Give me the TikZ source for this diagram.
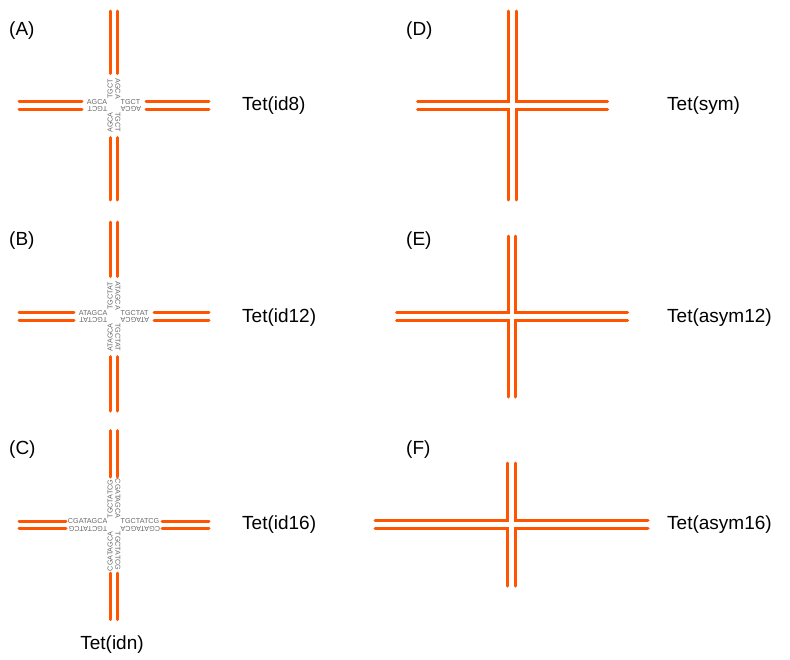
\documentclass[tikz,border=0pt]{standalone}
\usepackage{fontspec}
\setmainfont{Liberation Sans}
\definecolor{strand}{RGB}{255,85,0}
\definecolor{seqgray}{RGB}{105,105,105}
\newcommand\junction[6]{%
  \begin{scope}[shift={(#2,#3)}]
    \draw[strandline] (-3.75,-#4) -- (-3.75,-94.5);
    \draw[strandline] (3.75,-#4) -- (3.75,-94.5);
    \draw[strandline] (-3.75,#4) -- (-3.75,94.5);
    \draw[strandline] (3.75,#4) -- (3.75,94.5);
    \draw[strandline] (-#4,-3.75) -- (-95,-3.75);
    \draw[strandline] (-#4,3.75) -- (-95,3.75);
    \draw[strandline] (#4,-3.75) -- (95,-3.75);
    \draw[strandline] (#4,3.75) -- (95,3.75);
    \node[seq,anchor=east] (#1lt) at (-6.5,-3.75) {#5};
    \node[seq,anchor=west,rotate=180] (#1lb) at (-6.5,3.75) {#6};
    \node[seq,anchor=west] (#1rt) at (6.5,-3.75) {#6};
    \node[seq,anchor=east,rotate=180] (#1rb) at (6.5,3.75) {#5};
    \node[seq,anchor=west,rotate=90] (#1tl) at (-3.75,-6.5) {#6};
    \node[seq,anchor=east,rotate=-90] (#1tr) at (3.75,-6.5) {#5};
    \node[seq,anchor=east,rotate=90] (#1bl) at (-3.75,6.5) {#5};
    \node[seq,anchor=west,rotate=-90] (#1br) at (3.75,6.5) {#6};
  \end{scope}}
\newcommand\plaincross[4]{%
  \begin{scope}[shift={(#1,#2)}]
    \draw[strandline] (-3.75,-#4) -- (-3.75,-3.75) -- (-#3,-3.75);
    \draw[strandline] (3.75,-#4) -- (3.75,-3.75) -- (#3,-3.75);
    \draw[strandline] (-#3,3.75) -- (-3.75,3.75) -- (-3.75,#4);
    \draw[strandline] (#3,3.75) -- (3.75,3.75) -- (3.75,#4);
  \end{scope}}
\begin{document}
\begin{tikzpicture}[x=1pt,y=-1pt,
  strandline/.style={draw=strand,line width=3pt,line cap=round},
  seq/.style={inner sep=0pt,text=seqgray,font=\fontsize{7.2}{7.2}\selectfont},
  lbl/.style={inner sep=0pt,anchor=west,font=\fontsize{19}{22}\selectfont}]
\useasboundingbox (0,0) rectangle (790,659);
\fill[white] (0,0) rectangle (790,659);

\junction{a}{114}{105.5}{32}{AGCA}{TGCT}
\junction{b}{114}{316.5}{40}{ATAGCA}{TGCTAT}
\junction{c}{114}{525}{48}{CGATAGCA}{TGCTATCG}

\plaincross{512.5}{105.5}{95}{94.5}
\plaincross{512}{316.5}{115.5}{80.5}
\plaincross{511.5}{524.5}{136.5}{61.5}

\node[lbl] (pA) at (9,31) {(A)};
\node[lbl] (pB) at (9,241) {(B)};
\node[lbl] (pC) at (9,450) {(C)};
\node[lbl] (pD) at (406,31) {(D)};
\node[lbl] (pE) at (406,241) {(E)};
\node[lbl] (pF) at (406,450) {(F)};

\node[lbl] (lA) at (242,106) {Tet(id8)};
\node[lbl] (lB) at (242,318) {Tet(id12)};
\node[lbl] (lC) at (242,525) {Tet(id16)};
\node[lbl] (lD) at (667,106) {Tet(sym)};
\node[lbl] (lE) at (667,318) {Tet(asym12)};
\node[lbl] (lF) at (667,525) {Tet(asym16)};
\node[lbl,anchor=center] (lN) at (112,645) {Tet(idn)};
\end{tikzpicture}
\end{document}
